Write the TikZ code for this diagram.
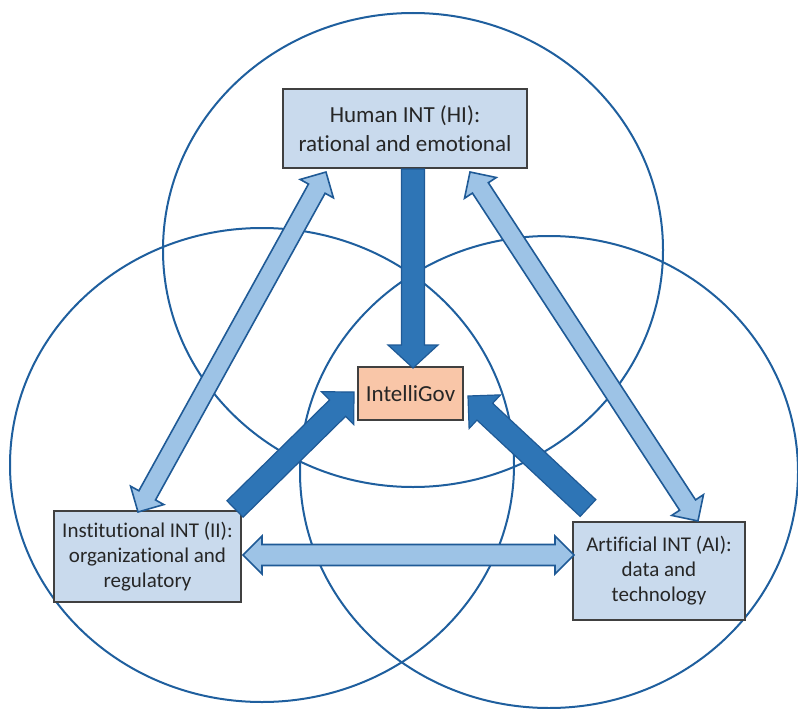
\documentclass[tikz,border=0pt]{standalone}
\usepackage{fontspec}
\setmainfont{Carlito}[Ligatures=NoCommon]
\usetikzlibrary{calc}

\definecolor{ringblue}{RGB}{31,95,158}
\definecolor{arrowdark}{RGB}{46,117,182}
\definecolor{arrowlight}{RGB}{157,195,230}
\definecolor{edgeblue}{RGB}{31,90,150}
\definecolor{boxfill}{RGB}{201,218,237}
\definecolor{govfill}{RGB}{249,198,168}
\definecolor{boxedge}{RGB}{64,64,64}
\definecolor{txt}{RGB}{38,38,38}

% angle and length of the segment from #1 to #2 (canvas units)
\newcommand{\arrowgeom}[2]{%
  \path let \p1=($(#2)-(#1)$) in \pgfextra{%
    \pgfmathsetmacro{\arang}{atan2(\y1,\x1)}\global\let\arang\arang
    \pgfmathsetmacro{\arlen}{veclen(\x1,\y1)}\global\let\arlen\arlen};}

% block arrow: style, from, to, shaft half-width, head half-width, head length
\newcommand{\singlearrow}[6]{%
  \arrowgeom{#2}{#3}%
  \begin{scope}[shift={(#2)}, rotate=\arang]
    \draw[#1] (0pt,#4pt) -- ({(\arlen-#6)*1pt},#4pt) -- ({(\arlen-#6)*1pt},#5pt)
      -- ({\arlen*1pt},0pt) -- ({(\arlen-#6)*1pt},-#5pt) -- ({(\arlen-#6)*1pt},-#4pt)
      -- (0pt,-#4pt) -- cycle;
  \end{scope}}

% two-headed block arrow, same arguments
\newcommand{\doublearrow}[6]{%
  \arrowgeom{#2}{#3}%
  \begin{scope}[shift={(#2)}, rotate=\arang]
    \draw[#1] (0pt,0pt) -- (#6pt,#5pt) -- (#6pt,#4pt) -- ({(\arlen-#6)*1pt},#4pt)
      -- ({(\arlen-#6)*1pt},#5pt) -- ({\arlen*1pt},0pt) -- ({(\arlen-#6)*1pt},-#5pt)
      -- ({(\arlen-#6)*1pt},-#4pt) -- (#6pt,-#4pt) -- (#6pt,-#5pt) -- cycle;
  \end{scope}}

\tikzset{
  ring/.style={draw=ringblue, line width=2pt},
  intbox/.style={draw=boxedge, line width=1.3pt, fill=boxfill, text=txt,
    align=center, inner sep=0pt},
  govbox/.style={draw=boxedge, line width=1.3pt, fill=govfill, text=txt,
    align=center, inner sep=0pt},
  darkarrow/.style={fill=arrowdark, draw=edgeblue, line width=1.2pt, line join=miter},
  lightarrow/.style={fill=arrowlight, draw=edgeblue, line width=1.6pt, line join=miter},
  bigtext/.style={font=\fontsize{23}{29.5}\selectfont},
  smalltext/.style={font=\fontsize{21}{25}\selectfont}
}

\begin{document}
\begin{tikzpicture}[x=1pt, y=-1pt]
  \useasboundingbox (0,0) rectangle (798,709);

  % three overlapping domains
  \draw[ring] (413,250) ellipse [x radius=250pt, y radius=237pt];
  \draw[ring] (262,465) ellipse [x radius=252pt, y radius=237pt];
  \draw[ring] (549,472) ellipse [x radius=249pt, y radius=236pt];

  % the four boxes
  \node[intbox, bigtext, minimum width=244pt, minimum height=79pt] (hi) at (405,128.5)
    {Human INT (HI):\\rational and emotional};
  \node[govbox, bigtext, minimum width=105pt, minimum height=53pt] (gov) at (410.5,393.5)
    {IntelliGov};
  \node[intbox, smalltext, minimum width=187pt, minimum height=91pt] (ii) at (147.5,556.5)
    {Institutional INT (II):\\organizational and\\regulatory};
  \node[intbox, smalltext, minimum width=172pt, minimum height=98pt] (ai) at (659,571)
    {Artificial INT (AI):\\data and\\technology};

  % arrow end points
  \coordinate (hiDown) at (413,169);
  \coordinate (govTop) at (413,368);
  \coordinate (iiCorner) at (235,509);
  \coordinate (govLeft) at (354,392);
  \coordinate (aiCorner) at (588,508);
  \coordinate (govRight) at (468,396);
  \coordinate (hiLeft) at (326,172);
  \coordinate (iiTop) at (138,512);
  \coordinate (hiRight) at (470,172);
  \coordinate (aiTop) at (698,521);
  \coordinate (iiRight) at (243,555);
  \coordinate (aiLeft) at (574,555);

  % two-way links between the intelligences
  \doublearrow{lightarrow}{iiTop}{hiLeft}{9.5}{19}{19}
  \doublearrow{lightarrow}{hiRight}{aiTop}{9.5}{19}{19}
  \doublearrow{lightarrow}{iiRight}{aiLeft}{10.5}{19}{19}

  % contributions into IntelliGov
  \singlearrow{darkarrow}{hiDown}{govTop}{11.5}{25}{23}
  \singlearrow{darkarrow}{iiCorner}{govLeft}{11.5}{23}{23}
  \singlearrow{darkarrow}{aiCorner}{govRight}{11.5}{23}{23}
\end{tikzpicture}
\end{document}
